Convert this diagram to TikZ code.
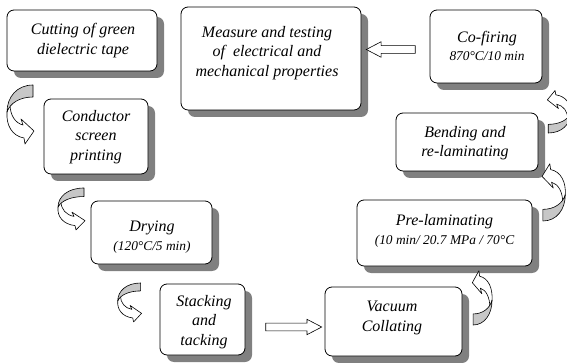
\documentclass[tikz,border=0pt]{standalone}
\usepackage{fontspec}
\setmainfont{Liberation Serif}
\usetikzlibrary{shadows,shapes.arrows}
\newcommand{\bigtxt}{\fontsize{16}{19.5}\selectfont\itshape}
\newcommand{\smtxt}{\fontsize{13.4}{16}\selectfont\itshape}
\newcommand{\carrowshape}{%
  \filldraw[fill=white, line width=0.6pt, line join=round] (5,19) .. controls (5,30) and (10,38) .. (18,40) -- (16,34) -- (29,46) -- (20,59) -- (19,53) .. controls (7,51) and (1,40) .. (2,27) -- cycle;
  \filldraw[fill=black!22, line width=0.6pt, line join=round] (28,0) .. controls (12,0) and (2,12) .. (2,27) .. controls (5,18) and (15,12) .. (28,12) -- cycle;
}
\tikzset{
  box/.style={draw, line width=0.8pt, rounded corners=7pt, fill=white, inner sep=0pt,
    drop shadow={shadow xshift=7pt, shadow yshift=-7pt, fill=black!50, opacity=1}},
  txt/.style={align=center, font=\bigtxt, inner sep=0pt},
  barrow/.style={single arrow, draw, fill=white, line width=0.6pt, inner xsep=0pt, inner ysep=3.6pt,
    single arrow head extend=3.8pt, single arrow tip angle=55}
}
\begin{document}
\begin{tikzpicture}[x=1pt,y=-1pt]
\clip (0,0) rectangle (567,363);
\fill[white] (0,0) rectangle (567,363);
% boxes
\node[box, minimum width=150pt, minimum height=61pt] (cut) at (82,40.5) {};
\node[box, minimum width=180pt, minimum height=103pt] (meas) at (271,58.5) {};
\node[box, minimum width=112pt, minimum height=73pt] (fire) at (486,46.5) {};
\node[box, minimum width=104pt, minimum height=75pt] (cond) at (96,136.5) {};
\node[box, minimum width=142pt, minimum height=58pt] (bend) at (467,142) {};
\node[box, minimum width=121pt, minimum height=63pt] (dry) at (151.5,232.5) {};
\node[box, minimum width=175pt, minimum height=66pt] (prel) at (444.5,233) {};
\node[box, minimum width=85pt, minimum height=71pt] (stack) at (202.5,319.5) {};
\node[box, minimum width=137pt, minimum height=69pt] (vac) at (393.5,321.5) {};
% texts
\node[txt] (tcut) at (83,40.5) {Cutting of green\\dielectric tape};
\node[txt] (tmeas) at (267,53) {Measure and testing\\of \ electrical and\\mechanical properties};
\node[txt] (tfire) at (487,46) {Co-firing\\[-2pt]\smtxt 870°C/10 min};
\node[txt] (tcond) at (96,137) {Conductor\\screen\\printing};
\node[txt] (tbend) at (465,143) {Bending and\\re-laminating};
\node[txt] (tdry) at (152,237) {Drying\\[-1pt]\smtxt (120°C/5 min)};
\node[txt] (tprel) at (444.5,231) {Pre-laminating\\[0pt]\smtxt (10 min/ 20.7 MPa / 70°C};
\node[txt] (tstack) at (204,322) {Stacking\\and\\tacking};
\node[txt] (tvac) at (392,318) {Vacuum\\Collating};
% block arrows
\node[barrow, shape border rotate=180, minimum height=49pt] (ar1) at (394.5,49.5) {};
\node[barrow, minimum height=56pt] (ar2) at (290,327) {};
% curved arrows
\begin{scope}[shift={(5,85)}]\carrowshape\end{scope}
\begin{scope}[shift={(56,188)}, yscale=.71]\carrowshape\end{scope}
\begin{scope}[shift={(116,283)}, xscale=.88, yscale=.66]\carrowshape\end{scope}
\begin{scope}[shift={(493.5,325)}, rotate=180, xscale=.73, yscale=.92]\carrowshape\end{scope}
\begin{scope}[shift={(567,221)}, rotate=180, xscale=.86, yscale=.97]\carrowshape\end{scope}
\begin{scope}[shift={(572,133)}, rotate=180, xscale=.85, yscale=.72]\carrowshape\end{scope}
\end{tikzpicture}
\end{document}
